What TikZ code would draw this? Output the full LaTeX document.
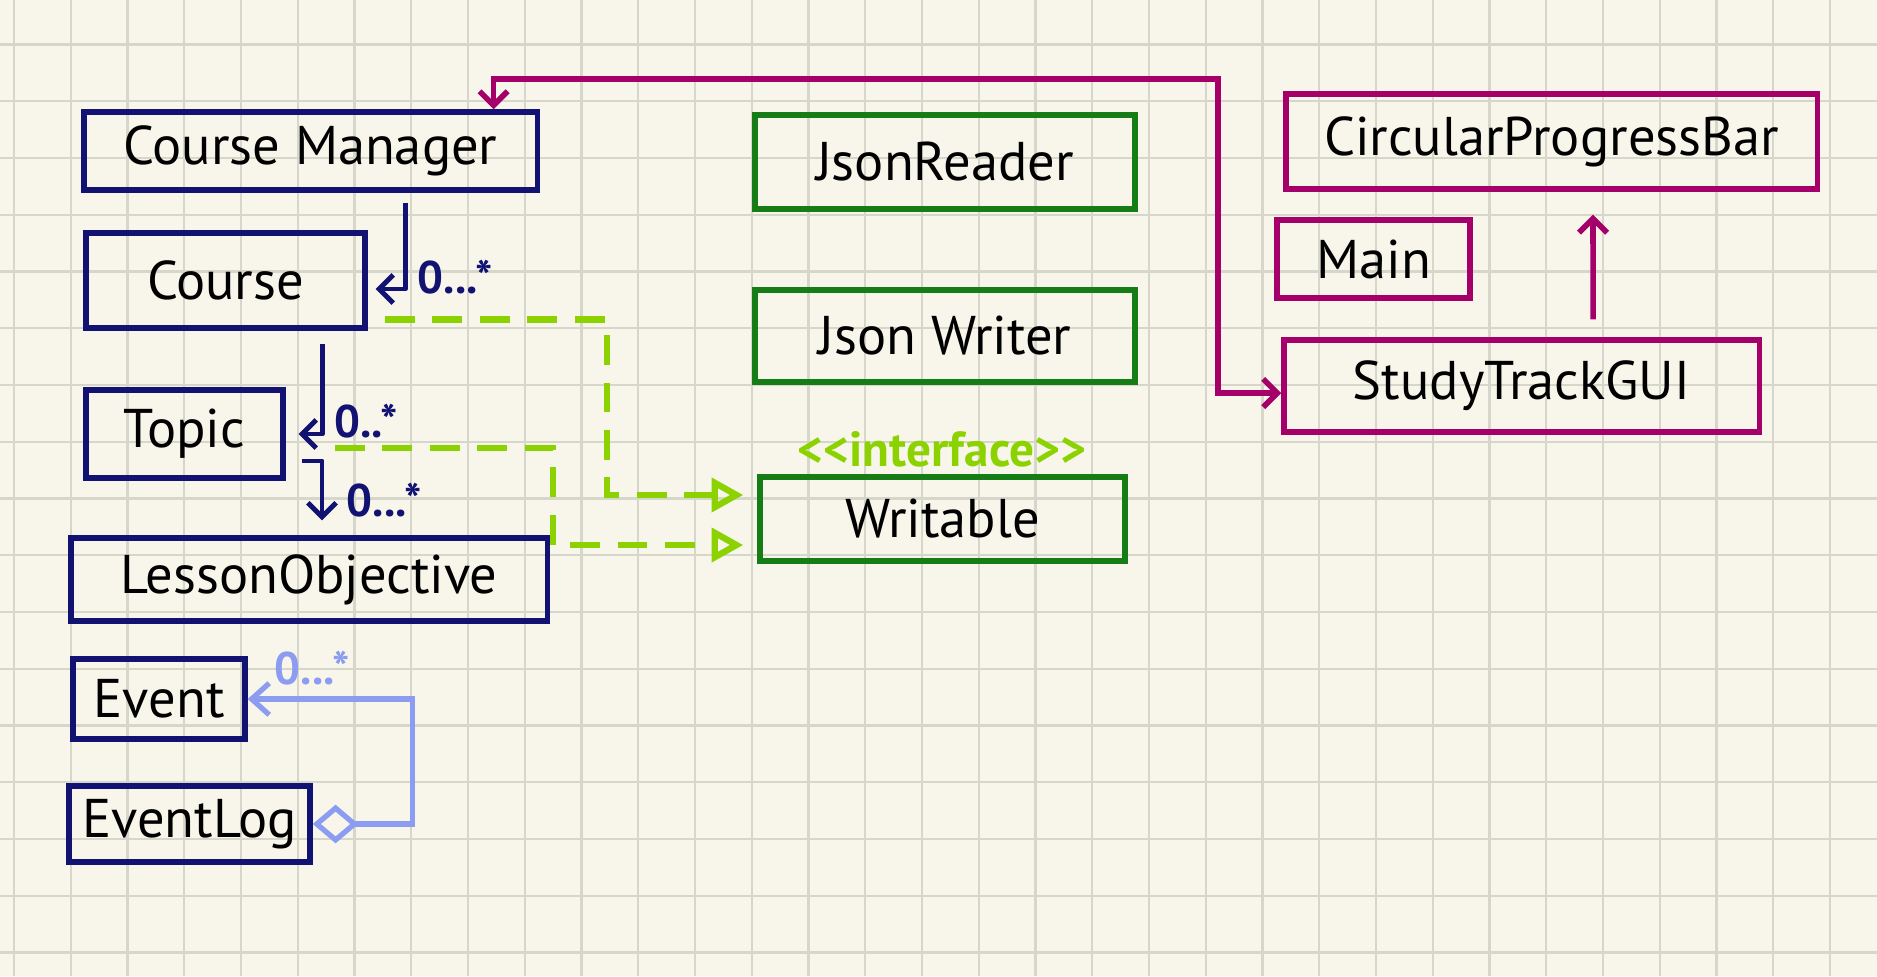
\documentclass[tikz,border=0pt]{standalone}
\usepackage{fontspec}
\setmainfont{PT Sans}
\usetikzlibrary{positioning,arrows.meta,calc}
\definecolor{paper}{RGB}{248,246,234}
\definecolor{gridgray}{RGB}{214,214,202}
\definecolor{inknavy}{RGB}{18,18,115}
\definecolor{inkgreen}{RGB}{22,125,22}
\definecolor{inkmagenta}{RGB}{165,0,105}
\definecolor{inklime}{RGB}{140,210,0}
\definecolor{inkperi}{RGB}{140,156,240}
\tikzset{
  gridline/.style={line width=0.6pt, gridgray},
  classbox/.style={draw, line width=1.5pt, text=black, inner sep=2pt, font=\fontsize{15.5}{18}\selectfont},
  navybox/.style={classbox, inknavy, text=black},
  greenbox/.style={classbox, inkgreen, text=black},
  magbox/.style={classbox, inkmagenta, text=black},
  hasarrow/.style={-{Straight Barb[length=4pt, width=8pt]}, line width=1.4pt, inknavy, line join=round},
  aggarrow/.style={{Diamond[open, length=13pt, width=11pt]}-{Straight Barb[length=5pt, width=9pt]}, line width=1.5pt, inkperi},
  implarrow/.style={-{Triangle[open, length=9pt, width=9.5pt]}, line width=1.8pt, inklime, dash pattern=on 8.5pt off 5pt, shorten >=4pt},
  magarrow/.style={-{Straight Barb[length=4pt, width=8pt]}, line width=1.6pt, inkmagenta},
  multlabel/.style={font=\fontsize{13}{15}\selectfont\bfseries, inknavy},
  stereolabel/.style={font=\fontsize{14}{16}\selectfont\bfseries, inklime}
}

\begin{document}
\begin{tikzpicture}[x=0.01cm, y=-0.01cm]
      \useasboundingbox (0,0) rectangle (1877,976);
      \fill[paper] (0,0) rectangle (1877,976);
      \foreach \gx in {0,...,32} \draw[gridline] ({14+56.75*\gx},0) -- ({14+56.75*\gx},976);
      \foreach \gy in {0,...,16} \draw[gridline] (0,{44.5+56.75*\gy}) -- (1877,{44.5+56.75*\gy});

      % left column
      \node[navybox, minimum width=4.53cm, minimum height=0.78cm] (manager) at (310.5,151) {Course Manager};
      \node[navybox, minimum width=2.79cm, minimum height=0.95cm] (course) at (225.5,280.5) {Course};
      \node[navybox, minimum width=1.97cm, minimum height=0.88cm] (topic) at (184.5,434) {Topic};
      \node[navybox, minimum width=4.76cm, minimum height=0.83cm] (lesson) at (309,579.5) {LessonObjective};
      \node[navybox, minimum width=1.72cm, minimum height=0.80cm] (event) at (159,699) {Event};
      \node[navybox, minimum width=2.41cm, minimum height=0.76cm] (eventlog) at (189.5,824) {EventLog};

      % persistence
      \node[greenbox, minimum width=3.80cm, minimum height=0.94cm] (reader) at (945,162) {JsonReader};
      \node[greenbox, minimum width=3.80cm, minimum height=0.92cm] (writer) at (945,336) {Json Writer};
      \node[greenbox, minimum width=3.65cm, minimum height=0.84cm] (writable) at (942.5,519) {Writable};
      \node[stereolabel] (writabletag) at (942,449) {<\kern0pt<interface>\kern0pt>};

      % ui
      \node[magbox, minimum width=5.31cm, minimum height=0.95cm] (progress) at (1551.5,141.5) {CircularProgressBar};
      \node[magbox, minimum width=1.93cm, minimum height=0.78cm] (main) at (1373.5,259) {Main};
      \node[magbox, minimum width=4.75cm, minimum height=0.92cm] (gui) at (1521.5,386) {StudyTrackGUI};

      % associations
      \draw[hasarrow] ([xshift=0.945cm, yshift=-0.1cm]manager.south) |- ([xshift=0.08cm, yshift=-0.085cm]course.east);
      \draw[hasarrow] ([xshift=0.965cm, yshift=-0.13cm]course.south) |- ([xshift=0.13cm]topic.east);
      \draw[hasarrow] ([xshift=0.16cm, yshift=-0.27cm]topic.east) -| ([xshift=0.13cm, yshift=0.15cm]lesson.north);
      \node[multlabel] (multcourse) at (455,277) {0...*};
      \node[multlabel] (multtopic) at (366,421) {0..*};
      \node[multlabel] (multlesson) at (384,500) {0...*};

      \draw[aggarrow] (eventlog.east) -- ++(100,0) |- (event.east);
      \node[multlabel, inkperi] (multevent) at (312,668) {0...*};

      % realisations
      \draw[implarrow] ([xshift=0.17cm, yshift=0.11cm]course.south east) -- ++(222,0) |- ([yshift=0.24cm]writable.west);
      \draw[implarrow] ([xshift=0.49cm, yshift=-0.14cm]topic.east) -- ++(218,0) |- ([yshift=-0.26cm]writable.west);

      \coordinate (bend) at (1218,79);
      \draw[magarrow, {Straight Barb[length=4pt, width=8pt]}-{Straight Barb[length=4pt, width=8pt]}] ([xshift=1.83cm]manager.north) |- (bend) |- ([yshift=-0.07cm]gui.west);
      \draw[magarrow] ([xshift=0.715cm, yshift=0.18cm]gui.north) -- ([xshift=0.415cm, yshift=-0.23cm]progress.south);
    \end{tikzpicture}
\end{document}
